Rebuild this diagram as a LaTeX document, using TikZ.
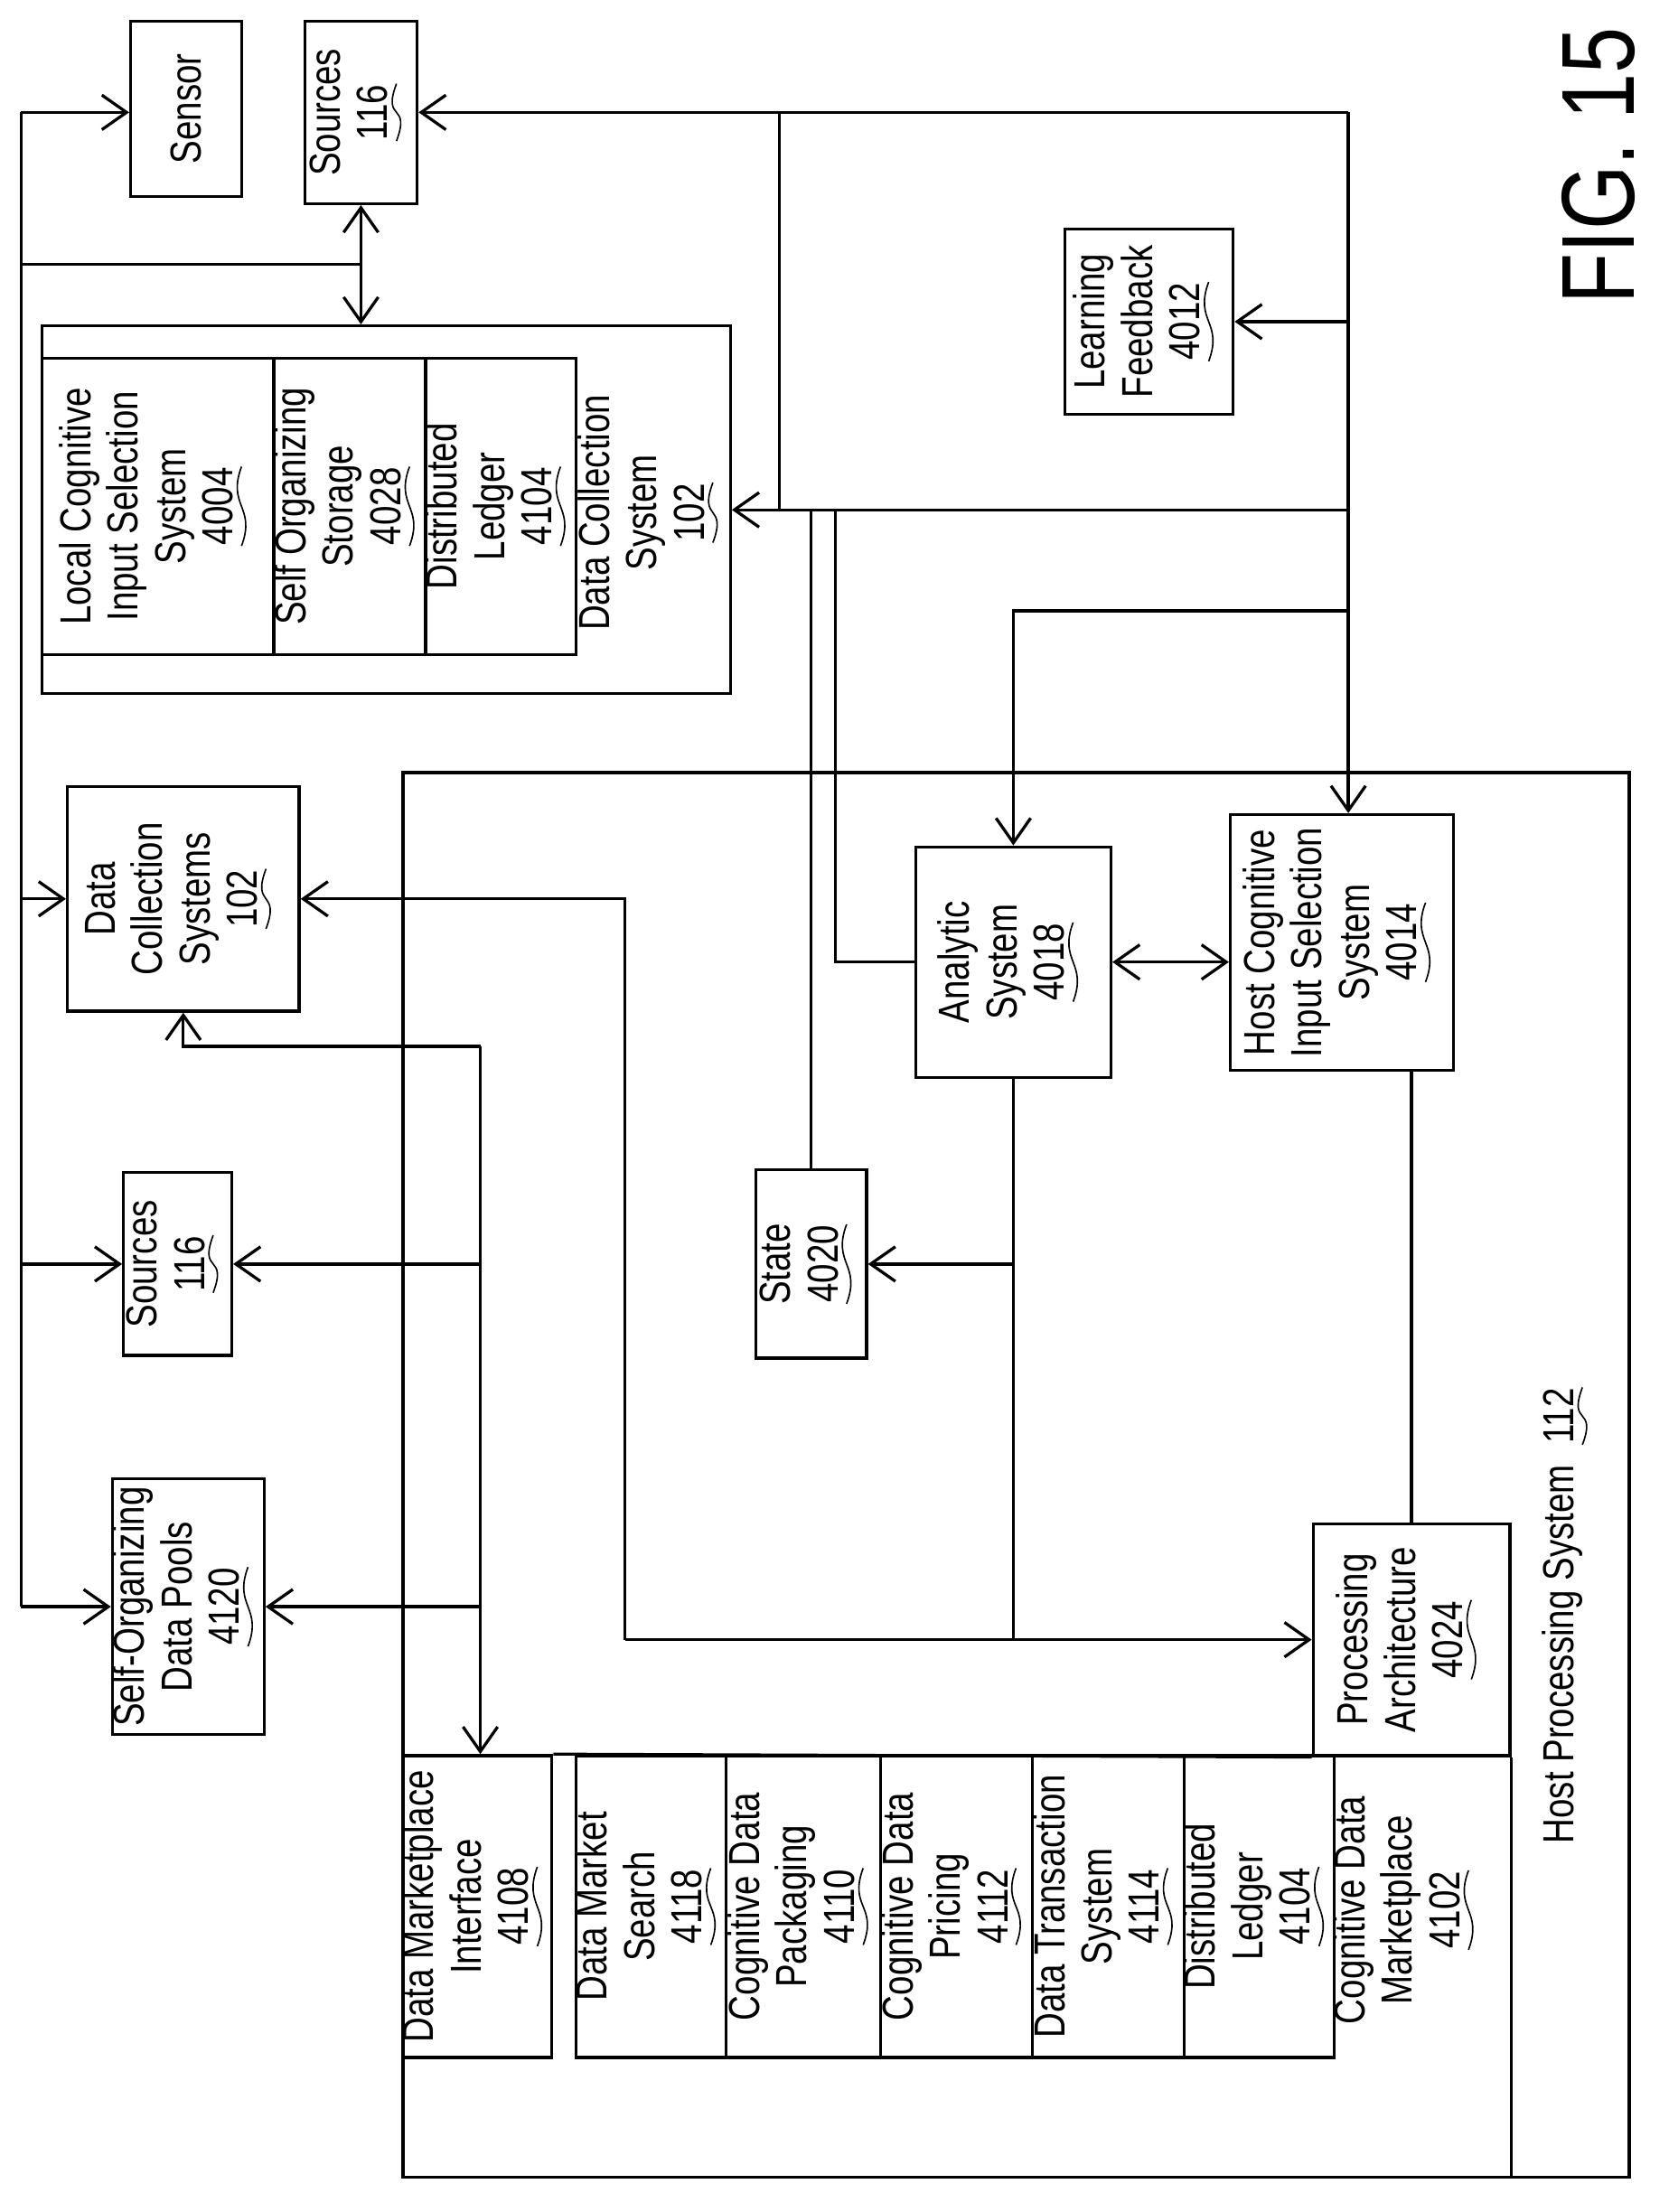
\documentclass[tikz,border=0pt]{standalone}
\usepackage{fontspec}
\setmainfont{Liberation Sans}[FakeStretch=0.8]
\usetikzlibrary{arrows.meta,fit}

\newcommand{\refno}[1]{\tikz[baseline=(rn.base)]{\node[inner sep=0pt] (rn) {#1};
  \draw[line width=0.3pt] ([yshift=-1.5pt]rn.south west) .. controls +(8pt,-3pt) and +(-8pt,3pt) .. ([yshift=-1.5pt]rn.south east);}}

\tikzset{
  box/.style={draw, line width=0.6pt, inner sep=0pt},
  lbl/.style={rotate=90, align=center, font=\fontsize{8.8}{9.6}\selectfont, inner sep=0pt},
  arr/.style={-{Straight Barb[length=5pt,width=7pt]}},
  dblarr/.style={{Straight Barb[length=5pt,width=7pt]}-{Straight Barb[length=5pt,width=7pt]}}
}

\begin{document}
\begin{tikzpicture}[x=0.01cm, y=-0.01cm, line width=0.6pt]
    \useasboundingbox (0,0) rectangle (1188,1575);

    % boxes on the left
    \node[box, fit={(93,15)(172,140)}] (sensor) {};
    \node[lbl] at (sensor) {Sensor};
    \node[box, fit={(217,15)(297,145)}] (srcA) {};
    \node[lbl] at (srcA) {Sources\\\refno{116}};

    \node[box, fit={(30,232)(520,494)}] (dcsys) {};
    \node[box, fit={(30,255)(195,466)}] (lcis) {};
    \node[lbl] at (lcis) {Local Cognitive\\Input Selection\\System\\\refno{4004}};
    \node[box, fit={(195,255)(303,466)}] (sos) {};
    \node[lbl] at (sos) {Self Organizing\\Storage\\\refno{4028}};
    \node[box, fit={(303,255)(410,466)}] (dlA) {};
    \node[lbl] at (dlA) {Distributed\\Ledger\\\refno{4104}};
    \node[lbl] at (465,365) {Data Collection\\System\\\refno{102}};

    \node[box, fit={(758,163)(878,295)}] (lf) {};
    \node[lbl] at (lf) {Learning\\Feedback\\\refno{4012}};

    \node[box, fit={(48,560)(213,720)}] (dcs) {};
    \node[lbl] at (dcs) {Data\\Collection\\Systems\\\refno{102}};
    \node[box, fit={(88,835)(165,965)}] (srcB) {};
    \node[lbl] at (srcB) {Sources\\\refno{116}};
    \node[box, fit={(80,1053)(188,1235)}] (pools) {};
    \node[lbl] at (pools) {Self-Organizing\\Data Pools\\\refno{4120}};

    % host processing system
    \node[box, fit={(287,550)(1160,1550)}] (host) {};
    \node[lbl] at (1118,1150) {Host Processing System\ \ \refno{112}};
    \node[box, fit={(652,603)(791,767)}] (ana) {};
    \node[lbl] at (ana) {Analytic\\System\\\refno{4018}};
    \node[box, fit={(876,580)(1035,762)}] (hcis) {};
    \node[lbl] at (hcis) {Host Cognitive\\Input Selection\\System\\\refno{4014}};
    \node[box, fit={(538,833)(617,967)}] (state) {};
    \node[lbl] at (state) {State\\\refno{4020}};
    \node[box, fit={(935,1085)(1075,1250)}] (pa) {};
    \node[lbl] at (pa) {Processing\\Architecture\\\refno{4024}};

    % marketplace
    \node[box, fit={(287,1250)(393,1465)}] (dmi) {};
    \node[lbl] at (dmi) {Data Marketplace\\Interface\\\refno{4108}};
    \node[box, fit={(410,1250)(517,1465)}] (dms) {};
    \node[lbl] at (dms) {Data Market\\Search\\\refno{4118}};
    \node[box, fit={(517,1250)(627,1465)}] (cdpk) {};
    \node[lbl] at (cdpk) {Cognitive Data\\Packaging\\\refno{4110}};
    \node[box, fit={(627,1250)(735,1465)}] (cdpr) {};
    \node[lbl] at (cdpr) {Cognitive Data\\Pricing\\\refno{4112}};
    \node[box, fit={(735,1250)(843,1465)}] (dts) {};
    \node[lbl] at (dts) {Data Transaction\\System\\\refno{4114}};
    \node[box, fit={(843,1250)(950,1465)}] (dlB) {};
    \node[lbl] at (dlB) {Distributed\\Ledger\\\refno{4104}};
    \node[lbl] at (1003,1360) {Cognitive Data\\Marketplace\\\refno{4102}};
    \draw (dmi.north east) -- (pa.south west);
    \draw (pa.south east) -- (pa.east |- host.south);

    \node[lbl, font=\fontsize{21}{23}\selectfont] (fig) at (1138,118) {FIG. 15};

    % left bus
    \coordinate (busT) at (15,80);
    \coordinate (busB) at (15,1144);
    \coordinate (jA) at (257,188);
    \draw (busT) -- (busB);
    \draw[arr] (busT) -- (busT -| sensor.west);
    \draw (busT |- jA) -- (jA);
    \draw[arr] (jA) -- (jA |- srcA.south);
    \draw[arr] (jA) -- (jA |- dcsys.north);
    \draw[arr] (busT |- dcs.west) -- (dcs.west);
    \draw[arr] (busT |- srcB.west) -- (srcB.west);
    \draw[arr] (busB) -- (pools.west);

    % feedback loop
    \coordinate (tR) at (960,80);
    \coordinate (tL) at (555,80);
    \draw[arr] (tR) -- (tR -| srcA.east);
    \draw (tL) -- (tL |- dcsys.east);
    \draw[arr] (tR |- dcsys.east) -- (dcsys.east);
    \draw[arr] (tR) -- (tR |- hcis.north);
    \draw[arr] (tR |- lf.east) -- (lf.east);
    \coordinate (jB) at (721.5,435);
    \draw[arr] (tR |- jB) -- (jB) -- (ana.north);
    \draw (state.north) -- (state.north |- dcsys.east);
    \coordinate (jC) at (595,363);
    \draw (jC) -- (jC |- ana.west) -- (ana.west);
    \draw[dblarr] (ana.east) -- (ana.east -| hcis.west);

    % analytic outputs
    \coordinate (jD) at (721.5,1167.5);
    \coordinate (jE) at (445,1167.5);
    \draw (ana.south) -- (jD);
    \draw[arr] (ana.south |- state.east) -- (state.east);
    \draw[arr] (jE) -- (pa.west);
    \draw[arr] (jE) -- (jE |- dcs.east) -- (dcs.east);
    \coordinate (jF) at (1005,762);
    \draw (jF) -- (jF |- pa.north);

    % marketplace interface links
    \coordinate (jG) at (342,745);
    \draw[arr] (jG) -- (jG |- dmi.north);
    \draw[arr] (jG) -- (jG -| dcs.south) -- (dcs.south);
    \draw[arr] (jG |- srcB.east) -- (srcB.east);
    \draw[arr] (jG |- pools.east) -- (pools.east);
\end{tikzpicture}
\end{document}
